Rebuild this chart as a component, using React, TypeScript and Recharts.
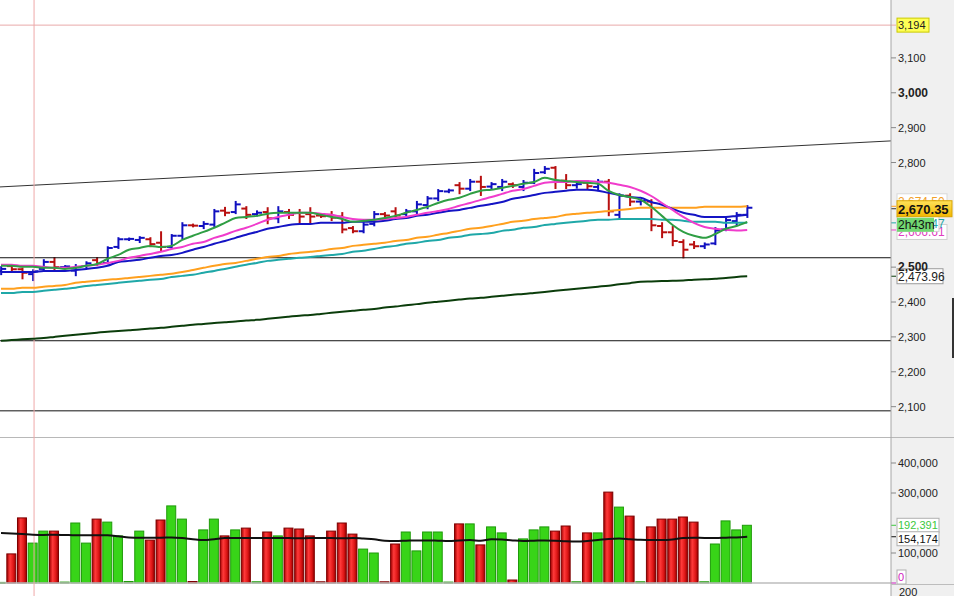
import React from "react";
import { ComposedChart, Bar, Line, XAxis, YAxis, ReferenceLine } from "recharts";

const W = 954;
const PRICE_H = 437;
const VOL_H = 159;
const AXIS_W = 63;

// daily OHLC
const opens = [
  2488, 2503, 2494, 2480, 2495, 2515, 2500, 2490, 2503, 2520, 2512, 2558, 2580, 2578, 2580, 2570, 2558, 2590,
  2620, 2618, 2622, 2662, 2658, 2668, 2652, 2658, 2640, 2658, 2655, 2652, 2648, 2650, 2645, 2612, 2603, 2624,
  2652, 2660, 2652, 2660, 2678, 2697, 2717, 2735, 2725, 2745, 2731, 2730, 2738, 2730, 2742, 2772, 2785, 2748,
  2735, 2742, 2730, 2745, 2650, 2705, 2688, 2688, 2618, 2600, 2572, 2565, 2560, 2568, 2608, 2632, 2650,
];
const highs = [
  2500, 2506, 2496, 2491, 2520, 2526, 2503, 2506, 2514, 2526, 2557, 2583, 2582, 2586, 2583, 2600, 2592, 2626,
  2622, 2629, 2664, 2670, 2687, 2672, 2660, 2669, 2672, 2664, 2664, 2669, 2650, 2658, 2655, 2615, 2626, 2658,
  2655, 2669, 2664, 2687, 2701, 2721, 2722, 2741, 2750, 2759, 2741, 2750, 2740, 2747, 2779, 2787, 2787, 2764,
  2740, 2747, 2750, 2750, 2709, 2709, 2692, 2692, 2626, 2615, 2577, 2572, 2568, 2612, 2640, 2655, 2675,
];
const lows = [
  2480, 2491, 2468, 2463, 2491, 2491, 2498, 2477, 2500, 2506, 2511, 2555, 2578, 2572, 2560, 2549, 2555, 2583,
  2617, 2612, 2615, 2649, 2655, 2641, 2648, 2626, 2629, 2641, 2629, 2626, 2644, 2635, 2600, 2600, 2600, 2620,
  2644, 2641, 2649, 2655, 2669, 2692, 2715, 2712, 2721, 2707, 2727, 2721, 2730, 2721, 2741, 2770, 2727, 2727,
  2728, 2727, 2721, 2649, 2640, 2678, 2680, 2606, 2586, 2563, 2528, 2555, 2555, 2566, 2606, 2621, 2644,
];
const closes = [
  2495, 2494, 2484, 2488, 2515, 2500, 2502, 2500, 2511, 2510, 2555, 2580, 2581, 2584, 2566, 2558, 2590, 2620,
  2619, 2624, 2660, 2656, 2680, 2650, 2656, 2640, 2660, 2650, 2645, 2645, 2646, 2642, 2608, 2603, 2622, 2652,
  2648, 2648, 2660, 2680, 2697, 2718, 2720, 2725, 2745, 2730, 2738, 2745, 2735, 2742, 2770, 2782, 2745, 2735,
  2738, 2732, 2745, 2660, 2705, 2688, 2690, 2620, 2600, 2575, 2550, 2560, 2565, 2605, 2635, 2650, 2670.35,
];
const volumes = [
  2000, 97000, 217000, 133000, 173000, 173000, 3000, 200000, 133000, 213000, 203000, 157000, 5000, 173000,
  143000, 210000, 257000, 213000, 5000, 177000, 213000, 157000, 177000, 183000, 4000, 170000, 157000, 183000,
  180000, 157000, 4000, 173000, 200000, 163000, 113000, 100000, 4000, 130000, 170000, 107000, 170000, 170000,
  3000, 197000, 197000, 127000, 187000, 167000, 10000, 147000, 177000, 187000, 173000, 190000, 4000, 167000,
  167000, 303000, 253000, 223000, 4000, 187000, 213000, 213000, 220000, 203000, 4000, 130000, 207000, 177000,
  192391,
];

// moving averages
const maGreen = [
  2504, 2504, 2501, 2501, 2498, 2498, 2495, 2498, 2504, 2509, 2524, 2535, 2550, 2555, 2561, 2558, 2561, 2578,
  2590, 2601, 2613, 2627, 2641, 2644, 2647, 2653, 2656, 2656, 2656, 2656, 2650, 2644, 2638, 2630, 2633, 2636,
  2641, 2647, 2656, 2664, 2673, 2684, 2693, 2699, 2710, 2719, 2722, 2727, 2733, 2739, 2744, 2756, 2750, 2747,
  2744, 2742, 2739, 2719, 2707, 2701, 2693, 2673, 2647, 2621, 2601, 2590, 2584, 2595, 2610, 2618, 2630,
];
const maPink = [
  2507, 2507, 2504, 2504, 2501, 2498, 2498, 2501, 2504, 2507, 2512, 2518, 2527, 2532, 2538, 2544, 2552, 2558,
  2567, 2572, 2584, 2593, 2604, 2613, 2624, 2636, 2644, 2650, 2656, 2656, 2653, 2650, 2644, 2638, 2636, 2636,
  2638, 2641, 2644, 2650, 2656, 2661, 2667, 2676, 2684, 2693, 2701, 2710, 2719, 2724, 2733, 2742, 2744, 2744,
  2747, 2747, 2744, 2742, 2736, 2730, 2719, 2704, 2684, 2664, 2644, 2627, 2615, 2610, 2607, 2605, 2606.61,
];
const maBlue = [
  2486, 2486, 2486, 2486, 2489, 2489, 2489, 2492, 2495, 2498, 2504, 2515, 2518, 2521, 2527, 2532, 2535, 2541,
  2550, 2558, 2567, 2575, 2584, 2593, 2601, 2610, 2615, 2621, 2624, 2624, 2627, 2627, 2627, 2630, 2630, 2630,
  2633, 2638, 2641, 2647, 2650, 2656, 2661, 2664, 2670, 2676, 2681, 2687, 2696, 2701, 2707, 2713, 2716, 2719,
  2722, 2722, 2719, 2713, 2707, 2701, 2699, 2687, 2679, 2667, 2656, 2650, 2644, 2644, 2644, 2647, 2650,
];
const maOrange = [
  2438, 2438, 2441, 2441, 2444, 2446, 2449, 2455, 2458, 2461, 2464, 2466, 2469, 2472, 2475, 2478, 2481, 2486,
  2492, 2498, 2504, 2509, 2512, 2518, 2524, 2529, 2532, 2538, 2541, 2544, 2547, 2552, 2555, 2561, 2564, 2567,
  2570, 2575, 2578, 2584, 2587, 2593, 2598, 2604, 2610, 2613, 2618, 2624, 2630, 2633, 2638, 2641, 2644, 2650,
  2653, 2656, 2658, 2661, 2664, 2667, 2670, 2670, 2670, 2670, 2670, 2670, 2673, 2673, 2673, 2673, 2674.5,
];
const maTeal = [
  2426, 2426, 2429, 2429, 2432, 2435, 2438, 2441, 2446, 2449, 2452, 2455, 2458, 2461, 2464, 2466, 2472, 2475,
  2478, 2484, 2489, 2495, 2501, 2507, 2512, 2518, 2521, 2524, 2527, 2529, 2532, 2535, 2538, 2544, 2547, 2552,
  2558, 2561, 2567, 2570, 2575, 2578, 2584, 2587, 2593, 2595, 2598, 2604, 2607, 2613, 2615, 2621, 2624, 2627,
  2630, 2633, 2636, 2636, 2638, 2638, 2638, 2638, 2636, 2636, 2633, 2630, 2630, 2630, 2627, 2627, 2627,
];
const maLong = [
  2289, 2291, 2293, 2295, 2297, 2300, 2303, 2306, 2309, 2312, 2315, 2317, 2319, 2321, 2324, 2326, 2329, 2332,
  2335, 2337, 2340, 2342, 2344, 2347, 2349, 2352, 2355, 2358, 2361, 2363, 2366, 2369, 2372, 2375, 2378, 2380,
  2384, 2387, 2391, 2394, 2398, 2401, 2404, 2407, 2410, 2412, 2415, 2418, 2421, 2423, 2426, 2429, 2432, 2435,
  2438, 2441, 2444, 2447, 2451, 2454, 2458, 2459, 2460, 2461, 2462, 2464, 2465, 2467, 2469, 2472, 2473.96,
];
const volMa = [
  167000, 165000, 163000, 161000, 160000, 161000, 160000, 159000, 159000, 159000, 159000, 156000, 152000,
  151000, 151000, 151000, 152000, 150000, 146000, 143000, 146000, 150000, 150000, 150000, 150000, 150000,
  150000, 150000, 149000, 150000, 150000, 150000, 149000, 150000, 148000, 146000, 141000, 140000, 141000,
  142000, 142000, 141000, 140000, 142000, 143000, 141000, 146000, 145000, 142000, 140000, 141000, 142000,
  141000, 139000, 138000, 140000, 143000, 147000, 148000, 146000, 144000, 143000, 143000, 145000, 150000,
  151000, 150000, 150000, 151000, 152000, 154174,
];

const priceTicks = [2100, 2200, 2300, 2400, 2500, 2800, 2900, 3000, 3100];
const volTicks = [100000, 300000, 400000];
const levels = [2527, 2289, 2088];
const alertLevel = 3194;
const trendX = [-0.094, 83.49];
const trendY = [2730, 2862];
const cursorAt = 3.1;

const rows = opens.map((o, i) => ({
  i,
  open: o,
  high: highs[i],
  low: lows[i],
  close: closes[i],
  range: [lows[i], highs[i]],
  vol: volumes[i],
  volMa: volMa[i],
  maGreen: maGreen[i],
  maPink: maPink[i],
  maBlue: maBlue[i],
  maOrange: maOrange[i],
  maTeal: maTeal[i],
  maLong: maLong[i],
}));

const X_DOMAIN: [number, number] = [-0.094, 83.49];
const fmt = (v: number) => v.toLocaleString("en-US");

function OhlcShape(props: any) {
  const { x, y, width, height, payload } = props;
  if (x == null || y == null) return null;
  const top = Math.min(y, y + height);
  const bot = Math.max(y, y + height);
  const span = payload.high - payload.low || 1;
  const py = (v: number) => top + ((payload.high - v) / span) * (bot - top);
  const cx = x + width / 2;
  const color = payload.close >= payload.open ? "#1010c0" : "#b81010";
  return (
    <g stroke={color} strokeWidth={2}>
      <line x1={cx} x2={cx} y1={top - 1} y2={bot + 1} />
      <line x1={cx - 5} x2={cx} y1={py(payload.open)} y2={py(payload.open)} />
      <line x1={cx} x2={cx + 5} y1={py(payload.close)} y2={py(payload.close)} />
    </g>
  );
}

function VolShape(props: any) {
  const { x, y, width, height, payload } = props;
  if (x == null || y == null) return null;
  const top = Math.min(y, y + height);
  const h = Math.max(Math.abs(height), 1);
  const up = payload.close >= payload.open;
  return (
    <rect
      x={x + 0.5}
      y={top}
      width={width - 1}
      height={h}
      fill={up ? "#38d418" : "url(#volRed)"}
      stroke={up ? "#1f9a0a" : "#7d0000"}
      strokeWidth={1}
    />
  );
}

function PriceTick(props: any) {
  const { x, y, payload } = props;
  const v = payload.value;
  const bold = v % 500 === 0;
  return (
    <text x={x} y={y} dy={4} textAnchor="start" fontSize={bold ? 12 : 11} fontWeight={bold ? 700 : 400} fill="#222">
      {fmt(v)}
    </text>
  );
}

function VolTick(props: any) {
  const { x, y, payload } = props;
  return (
    <text x={x} y={y} dy={4} textAnchor="start" fontSize={11} fill="#222">
      {fmt(payload.value)}
    </text>
  );
}

function Badge(props: any) {
  const { viewBox, text, bg, color, border, bold, size = 12, w, dy = 0, tick } = props;
  if (!viewBox) return null;
  const x0 = viewBox.x + viewBox.width;
  const cy = viewBox.y + dy;
  const h = size + 3;
  return (
    <g>
      {tick && <line x1={x0} x2={x0 + 5} y1={viewBox.y} y2={viewBox.y} stroke={tick} strokeWidth={1} />}
      <rect x={x0 + 6} y={cy - h / 2} width={w} height={h} fill={bg} stroke={border} strokeWidth={1} />
      <text x={x0 + 7} y={cy} dy="0.36em" fontSize={size} fontWeight={bold ? 700 : 400} fill={color}>
        {text}
      </text>
    </g>
  );
}

function PriceBadge(props: any) {
  const { viewBox } = props;
  if (!viewBox) return null;
  const x0 = viewBox.x + viewBox.width;
  const cy = viewBox.y + 1;
  return (
    <g>
      <line x1={x0} x2={x0 + 5} y1={cy} y2={cy} stroke="#333" />
      <rect x={x0 + 6} y={cy - 8} width={55} height={16} fill="url(#gold)" stroke="#d9a400" />
      <text x={x0 + 7} y={cy} dy="0.38em" fontSize={13} fontWeight={700} fill="#111">
        2,670.35
      </text>
      <rect x={x0 + 6} y={cy + 9} width={37} height={14} fill="#72d872" />
      <text x={x0 + 7} y={cy + 16} dy="0.36em" fontSize={12} fill="#111">
        2h43m
      </text>
    </g>
  );
}

const lineProps = {
  dot: false,
  activeDot: false,
  type: "monotone" as const,
  strokeWidth: 2,
  isAnimationActive: false,
  legendType: "none" as const,
};

export default function App() {
  return (
    <div
      style={{
        position: "absolute",
        left: 0,
        top: 0,
        width: W,
        height: PRICE_H + VOL_H,
        background: "#fff",
        overflow: "hidden",
        fontFamily: '"Liberation Sans", Arial, sans-serif',
      }}
    >
      <div style={{ position: "absolute", left: W - AXIS_W, top: 0, width: AXIS_W, height: 596, background: "#f0f0f0" }} />
      <div style={{ position: "absolute", left: 0, top: 0 }}>
        <ComposedChart width={W} height={PRICE_H} data={rows} margin={{ top: 0, right: 0, bottom: 0, left: 0 }}>
          <defs>
            <linearGradient id="gold" x1="0" y1="0" x2="0" y2="1">
              <stop offset="0%" stopColor="#ffe25a" />
              <stop offset="100%" stopColor="#f2b600" />
            </linearGradient>
          </defs>
          <XAxis dataKey="i" type="number" domain={X_DOMAIN} allowDataOverflow hide height={0} />
          <YAxis
            orientation="right"
            width={AXIS_W}
            type="number"
            domain={[2013, 3266]}
            allowDataOverflow
            ticks={priceTicks}
            tick={<PriceTick />}
            tickSize={5}
            tickMargin={2}
            axisLine={{ stroke: "#a6a6a6" }}
            tickLine={{ stroke: "#888" }}
            interval={0}
          />
          {levels.map((lv) => (
            <ReferenceLine key={lv} y={lv} stroke="#111" strokeWidth={1} />
          ))}
          <ReferenceLine
            segment={[
              { x: trendX[0], y: trendY[0] },
              { x: trendX[1], y: trendY[1] },
            ]}
            stroke="#333"
            strokeWidth={1}
            ifOverflow="visible"
          />
          <ReferenceLine x={cursorAt} stroke="#efa8a8" strokeWidth={1} />
          <ReferenceLine
            y={alertLevel}
            stroke="#e9a9a9"
            strokeWidth={1}
            label={<Badge text="3,194" bg="#ffff55" border="#c9c900" color="#222" size={11} w={32} tick="#e9a9a9" />}
          />
          <Line dataKey="maLong" stroke="#0b3d0b" {...lineProps} />
          <Line dataKey="maTeal" stroke="#1fa8a8" {...lineProps} />
          <Line dataKey="maOrange" stroke="#ffa01e" {...lineProps} />
          <Line dataKey="maBlue" stroke="#1414c4" {...lineProps} />
          <Line dataKey="maPink" stroke="#f03ccc" {...lineProps} />
          <Line dataKey="maGreen" stroke="#2f9e44" {...lineProps} />
          <Bar dataKey="range" barSize={9} shape={<OhlcShape />} isAnimationActive={false} />
          <ReferenceLine
            y={2473.96}
            stroke="none"
            label={<Badge text="2,473.96" bg="#fff" border="#9a9a9a" color="#222" w={46} tick="#0b3d0b" />}
          />
          <ReferenceLine
            y={2674.5}
            stroke="none"
            label={<Badge text="2,674.50" bg="#fff" border="#d8d8d8" color="#f2a12c" w={50} dy={-5} tick="#ffa01e" />}
          />
          <ReferenceLine
            y={2606.61}
            stroke="none"
            label={<Badge text="2,606.61" bg="#fff" border="#cfcfcf" color="#e03cc0" w={50} dy={2} tick="#f03ccc" />}
          />
          <ReferenceLine
            y={2627}
            stroke="none"
            label={<Badge text="2,627.47" bg="#fff" border="#cfcfcf" color="#1fa8a8" w={42} dy={1} tick="#1fa8a8" />}
          />
          <ReferenceLine y={2670.35} stroke="none" label={<PriceBadge />} />
        </ComposedChart>
      </div>
      <div style={{ position: "absolute", left: 0, top: PRICE_H, width: W, height: 1, background: "#b8b8b8" }} />
      <div style={{ position: "absolute", left: 0, top: PRICE_H }}>
        <ComposedChart width={W} height={VOL_H} data={rows} margin={{ top: 0, right: 0, bottom: 0, left: 0 }}>
          <defs>
            <linearGradient id="volRed" x1="0" y1="0" x2="1" y2="0">
              <stop offset="0%" stopColor="#a00000" />
              <stop offset="35%" stopColor="#ff3a3a" />
              <stop offset="70%" stopColor="#e01818" />
              <stop offset="100%" stopColor="#9a0000" />
            </linearGradient>
          </defs>
          <XAxis dataKey="i" type="number" domain={X_DOMAIN} allowDataOverflow hide height={0} />
          <YAxis
            orientation="right"
            width={AXIS_W}
            type="number"
            domain={[-43333, 486667]}
            allowDataOverflow
            ticks={volTicks}
            tick={<VolTick />}
            tickSize={5}
            tickMargin={2}
            axisLine={{ stroke: "#a6a6a6" }}
            tickLine={{ stroke: "#888" }}
            interval={0}
          />
          <ReferenceLine y={0} stroke="#bdbdbd" strokeWidth={1.5} />
          <ReferenceLine x={cursorAt} stroke="#efa8a8" strokeWidth={1} />
          <Bar dataKey="vol" barSize={10} shape={<VolShape />} isAnimationActive={false} />
          <Line dataKey="volMa" stroke="#111" {...lineProps} />
          <ReferenceLine
            y={192391}
            stroke="none"
            label={<Badge text="192,391" bg="#fff" border="#b0b0b0" color="#3cc83c" size={11} w={42} tick="#3cc83c" />}
          />
          <ReferenceLine
            y={154174}
            stroke="none"
            label={<Badge text="154,174" bg="#fff" border="#b0b0b0" color="#111" size={11} w={42} dy={2} tick="#111" />}
          />
          <ReferenceLine
            y={0}
            stroke="none"
            label={<Badge text="0" bg="#fff" border="#b0b0b0" color="#d020c0" size={11} w={9} dy={-6} tick="#d020c0" />}
          />
        </ComposedChart>
      </div>
      <div style={{ position: "absolute", left: W - AXIS_W, top: 584, width: AXIS_W, height: 1, background: "#bdbdbd" }} />
      <div style={{ position: "absolute", left: 952, top: 298, width: 2, height: 60, background: "#333" }} />
      <div style={{ position: "absolute", left: 899, top: 586, fontSize: 11, color: "#222" }}>200</div>
    </div>
  );
}
